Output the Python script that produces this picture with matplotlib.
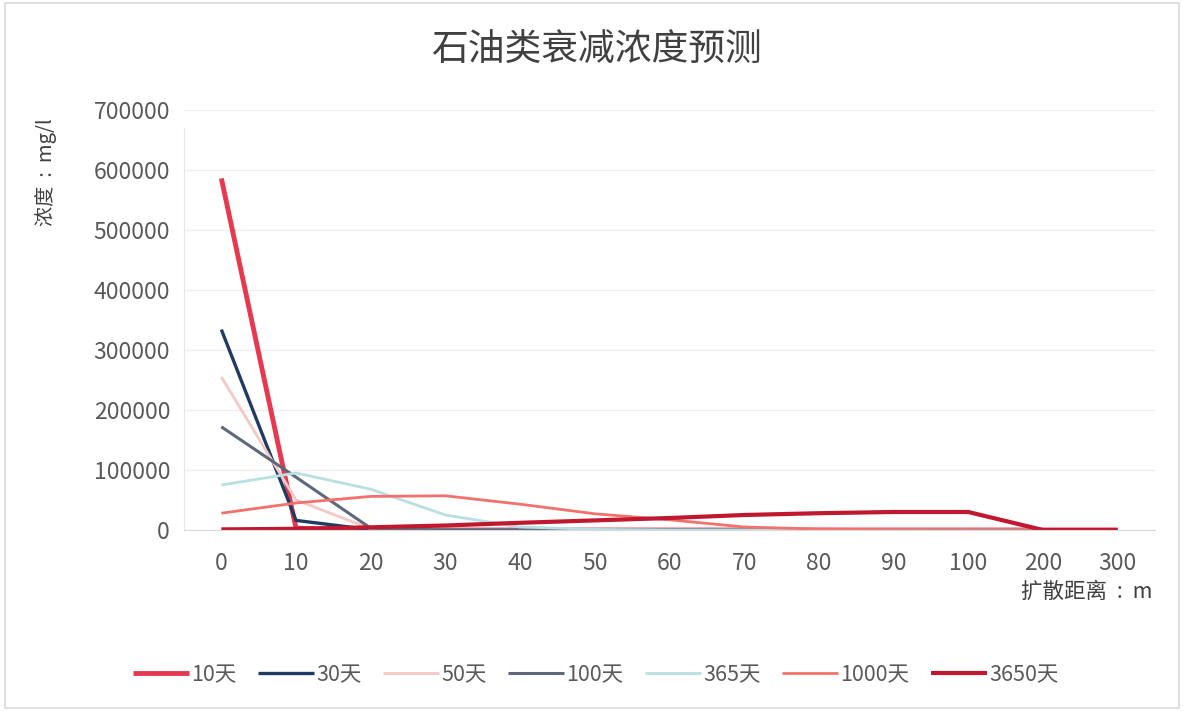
import matplotlib
matplotlib.use('Agg')
import matplotlib.pyplot as plt
import numpy as np

plt.rcParams['font.family'] = ['Noto Sans CJK SC', 'DejaVu Sans']

# 扩散距离（类别轴）
distances = ['0', '10', '20', '30', '40', '50', '60', '70', '80', '90', '100', '200', '300']

# 各时间点的浓度 mg/l
c_10d = [586000, 3000, 0, 0, 0, 0, 0, 0, 0, 0, 0, 0, 0]
c_30d = [334000, 16000, 500, 0, 0, 0, 0, 0, 0, 0, 0, 0, 0]
c_50d = [255000, 50000, 2000, 0, 0, 0, 0, 0, 0, 0, 0, 0, 0]
c_100d = [172000, 88000, 3000, 0, 0, 0, 0, 0, 0, 0, 0, 0, 0]
c_365d = [75000, 95000, 68000, 25000, 5000, 1000, 0, 0, 0, 0, 0, 0, 0]
c_1000d = [28000, 45000, 56000, 57000, 43000, 27000, 17000, 5000, 1500, 500, 0, 0, 0]
c_3650d = [1000, 2000, 4500, 7500, 12000, 16000, 20000, 25000, 28000, 30000, 30000, 0, 0]

series_labels = ['10天', '30天', '50天', '100天', '365天', '1000天', '3650天']
series_values = [c_10d, c_30d, c_50d, c_100d, c_365d, c_1000d, c_3650d]
colors = ['#E8384F', '#1F3A63', '#F3C9C6', '#5F6878', '#B9DFE1', '#F3716C', '#C0182E']
widths = [3.5, 2.4, 2.0, 2.2, 2.0, 2.0, 3.0]

fig = plt.figure(figsize=(11.84, 7.11), dpi=100, facecolor='white')
ax = fig.add_axes([184 / 1184, 1 - 530 / 711, 971 / 1184, 420 / 711])

x = np.arange(len(distances))
for vals, lab, col, lw in zip(series_values, series_labels, colors, widths):
    ax.plot(x, vals, color=col, lw=lw, label=lab, solid_capstyle='butt')

ax.set_xlim(-0.5, len(distances) - 0.5)
ax.set_ylim(0, 700000)
ax.set_yticks(np.arange(0, 700001, 100000))
ax.set_yticklabels([str(v) for v in range(0, 700001, 100000)])
ax.set_xticks(x)
ax.set_xticklabels(distances)

ax.grid(axis='y', color='#EFEFEF', lw=1)
ax.set_axisbelow(True)
for s in ['top', 'right']:
    ax.spines[s].set_visible(False)
ax.spines['left'].set_color('#E6E6E6')
ax.spines['left'].set_bounds(0, 670000)
ax.spines['bottom'].set_color('#D9D9D9')
ax.tick_params(length=0, labelsize=16.5, colors='#595959')
ax.tick_params(axis='y', pad=10)
ax.tick_params(axis='x', pad=16)

fig.text(596 / 1184, 1 - 50 / 711, '石油类衰减浓度预测', ha='center', va='center',
         fontsize=26.5, color='#404040')
fig.text(46 / 1184, 1 - 172 / 711, '浓度  :  mg/l', rotation=90, ha='center', va='center',
         fontsize=14.5, color='#404040')
fig.text(1087 / 1184, 1 - 592 / 711, '扩散距离  :  m', ha='center', va='center',
         fontsize=15.5, color='#404040')

leg = fig.legend(loc='center', bbox_to_anchor=(596 / 1184, 1 - 675 / 711), ncol=7,
                 frameon=False, fontsize=15.5, handlelength=2.6, handletextpad=0.1,
                 columnspacing=1.0, labelcolor='#595959')

# 外框
fig.patches.append(plt.Rectangle((0.004, 0.004), 0.992, 0.992, transform=fig.transFigure,
                                 fill=False, edgecolor='#D9D9D9', lw=1.2))

fig.savefig('out.png', dpi=100, facecolor='white')
plt.close('all')
